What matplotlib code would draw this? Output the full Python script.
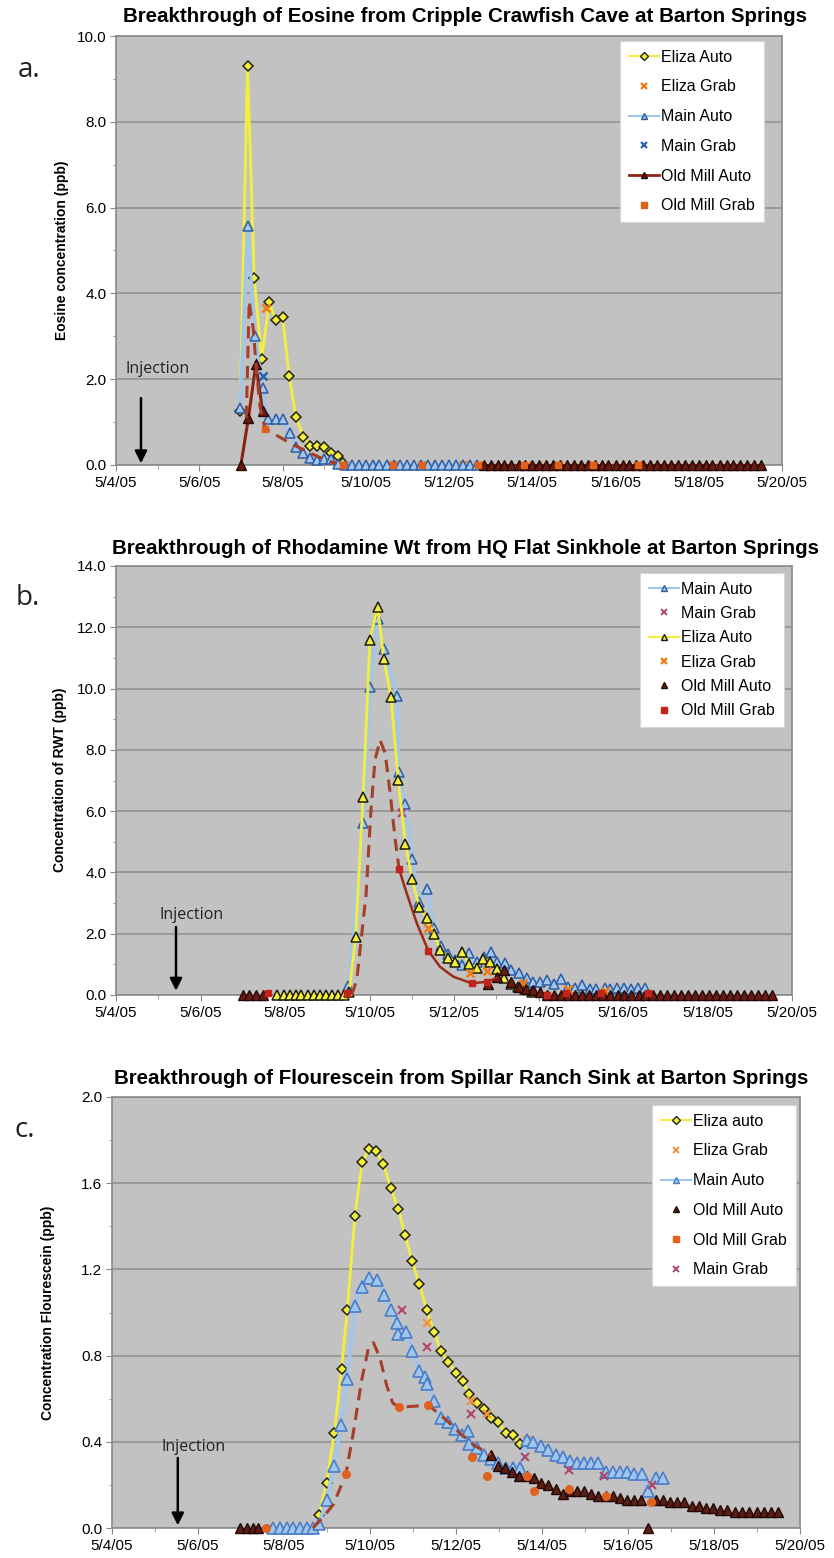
import numpy as np
import pandas as pd
import matplotlib
matplotlib.use("Agg")
import matplotlib.pyplot as plt
import matplotlib.dates as mdates
from matplotlib.lines import Line2D
from matplotlib.ticker import FormatStrFormatter, MultipleLocator

# ---------------------------------------------------------------------------
# Data (time = days after 5/4/05 00:00, values in ppb)
# ---------------------------------------------------------------------------
START = pd.Timestamp("2005-05-04")

# a. Eosine from Cripple Crawfish Cave
EOS_ELIZA_AUTO_T = [2.98, 3.16, 3.32, 3.50, 3.68, 3.84, 4.00, 4.16, 4.32, 4.50, 4.66, 4.84, 5.00, 5.16, 5.33, 5.46]
EOS_ELIZA_AUTO = [1.25, 9.31, 4.35, 2.46, 3.79, 3.38, 3.46, 2.08, 1.13, 0.65, 0.44, 0.44, 0.41, 0.29, 0.21, 0.05]
EOS_ELIZA_GRAB_T = [3.60, 5.46, 6.65, 7.35, 8.34, 8.70, 9.75, 9.87, 10.63, 11.47, 12.55]
EOS_ELIZA_GRAB = [3.65, 0.0, 0.0, 0.0, 0.0, 0.0, 0.0, 0.0, 0.0, 0.0, 0.0]
EOS_MAIN_AUTO_T = [2.98, 3.16, 3.34, 3.52, 3.66, 3.84, 4.00, 4.18, 4.32, 4.50, 4.66, 4.82, 4.99, 5.16, 5.34,
                   5.50, 5.67, 5.83, 6.00, 6.17, 6.33, 6.50, 6.67, 6.83, 7.00, 7.17, 7.33, 7.50, 7.67, 7.83,
                   8.00, 8.17, 8.33, 8.50, 8.67]
EOS_MAIN_AUTO = [1.32, 5.57, 3.00, 1.79, 1.07, 1.07, 1.07, 0.74, 0.43, 0.27, 0.16, 0.12, 0.13, 0.13, 0.02,
                 0.0, 0.0, 0.0, 0.0, 0.0, 0.0, 0.0, 0.0, 0.0, 0.0, 0.0, 0.0, 0.0, 0.0, 0.0,
                 0.0, 0.0, 0.0, 0.0, 0.0]
EOS_MAIN_GRAB_T = [3.54]
EOS_MAIN_GRAB = [2.07]
EOS_OLDMILL_AUTO_T = [3.00, 3.18, 3.36, 3.52]
EOS_OLDMILL_AUTO = [0.0, 1.09, 2.35, 1.27]
EOS_OLDMILL_TAIL_T = [8.83, 9.00, 9.17, 9.33, 9.50, 9.67, 9.83, 10.00, 10.17, 10.33, 10.50, 10.67, 10.83, 11.00,
                      11.17, 11.33, 11.50, 11.67, 11.83, 12.00, 12.17, 12.33, 12.50, 12.67, 12.83, 13.00, 13.17,
                      13.33, 13.50, 13.67, 13.83, 14.00, 14.17, 14.33, 14.50, 14.67, 14.83, 15.00, 15.17, 15.33,
                      15.50]
EOS_OLDMILL_TAIL = [0.0] * 41
EOS_OLDMILL_GRAB_T = [3.58, 5.46, 6.65, 7.35, 8.70, 9.80, 10.63, 11.47, 12.55]
EOS_OLDMILL_GRAB = [0.85, 0.0, 0.0, 0.0, 0.0, 0.0, 0.0, 0.0, 0.0]
EOS_CURVE_T = [3.13, 3.20, 3.30, 3.38, 3.46, 3.58, 4.18, 4.66, 5.00, 5.30]
EOS_CURVE = [1.10, 3.82, 3.15, 2.14, 1.36, 0.85, 0.51, 0.28, 0.13, 0.03]
EOS_INJECTION = 0.60

# b. Rhodamine WT from HQ Flat Sinkhole
RWT_MAIN_AUTO_T = [5.50, 5.85, 6.01, 6.19, 6.34, 6.66, 6.69, 6.85, 7.01, 7.18, 7.37, 7.53, 7.69, 7.86, 8.02,
                   8.18, 8.36, 8.54, 8.70, 8.87, 9.02, 9.20, 9.36, 9.55, 9.72, 9.88, 10.03, 10.21, 10.37, 10.53,
                   10.70, 10.86, 11.04, 11.21, 11.37, 11.57, 11.70, 11.85, 12.03, 12.20, 12.36, 12.52]
RWT_MAIN_AUTO = [0.30, 5.62, 10.06, 12.26, 11.28, 9.76, 7.29, 6.22, 4.44, 3.05, 3.45, 2.20, 1.60, 1.34, 1.15,
                 0.97, 1.36, 1.09, 1.25, 1.39, 1.09, 1.03, 0.82, 0.71, 0.55, 0.43, 0.43, 0.49, 0.35, 0.51,
                 0.25, 0.22, 0.33, 0.20, 0.20, 0.22, 0.20, 0.22, 0.22, 0.20, 0.22, 0.22]
RWT_MAIN_GRAB_T = [6.76]
RWT_MAIN_GRAB = [5.93]
RWT_ELIZA_AUTO_T = [3.82, 3.97, 4.11, 4.25, 4.39, 4.54, 4.68, 4.83, 4.97, 5.11, 5.25, 5.39, 5.52, 5.67, 5.85,
                    6.01, 6.19, 6.34, 6.51, 6.68, 6.85, 7.01, 7.18, 7.35, 7.53, 7.68, 7.86, 8.02, 8.20, 8.36,
                    8.54, 8.69, 8.85, 9.02, 9.18, 9.35, 9.52, 9.68, 9.85]
RWT_ELIZA_AUTO = [0.0, 0.0, 0.0, 0.0, 0.0, 0.0, 0.0, 0.0, 0.0, 0.0, 0.0, 0.0, 0.10, 1.90, 6.47,
                  11.59, 12.67, 10.97, 9.71, 7.02, 4.93, 3.78, 2.88, 2.52, 1.99, 1.47, 1.22, 1.09, 1.41, 1.00,
                  0.87, 1.17, 1.09, 0.84, 0.54, 0.35, 0.25, 0.20, 0.10]
RWT_ELIZA_GRAB_T = [7.39, 8.38, 8.77, 9.64, 10.70, 11.58]
RWT_ELIZA_GRAB = [2.18, 0.73, 0.79, 0.38, 0.19, 0.12]
RWT_OLDMILL_AUTO_T = [3.00, 3.15, 3.31, 3.48, 8.81, 9.02, 9.18, 9.35, 9.53, 9.70, 9.87, 10.04, 10.20,
                      10.37, 10.53, 10.70, 10.87, 11.03, 11.20, 11.37, 11.53, 11.70, 11.87, 12.03, 12.20, 12.37,
                      12.53, 12.70, 12.87, 13.03, 13.20, 13.37, 13.53, 13.70, 13.87, 14.03, 14.20, 14.37, 14.53,
                      14.70, 14.87, 15.03, 15.20, 15.37, 15.53]
RWT_OLDMILL_AUTO = [0.0, 0.0, 0.0, 0.0, 0.36, 0.60, 0.80, 0.44, 0.27, 0.20, 0.17, 0.10, 0.0] + [0.0] * 32
RWT_OLDMILL_GRAB_T = [3.60, 5.46, 6.70, 7.39, 8.42, 8.77, 10.19, 10.64, 11.49, 12.60]
RWT_OLDMILL_GRAB = [0.05, 0.05, 4.11, 1.45, 0.38, 0.43, 0.0, 0.08, 0.05, 0.05]
RWT_DASHED_T = [5.58, 5.70, 5.92, 6.03, 6.13, 6.25, 6.37, 6.49, 6.60, 6.70]
RWT_DASHED = [0.0, 0.5, 3.3, 5.93, 7.67, 8.32, 7.89, 6.58, 5.17, 4.11]
RWT_SOLID_T = [6.70, 6.88, 7.12, 7.39, 7.67, 7.98, 8.42, 8.77, 9.00]
RWT_SOLID = [4.11, 3.32, 2.34, 1.45, 0.92, 0.60, 0.38, 0.43, 0.55]
RWT_INJECTION = 1.42

# c. Flourescein from Spillar Ranch Sink
FL_ELIZA_AUTO_T = [4.81, 4.99, 5.17, 5.34, 5.47, 5.65, 5.82, 5.98, 6.14, 6.31, 6.48, 6.66, 6.81, 6.98, 7.15,
                   7.32, 7.49, 7.65, 7.82, 7.99, 8.16, 8.31, 8.48, 8.65, 8.81, 8.98, 9.16, 9.32, 9.49]
FL_ELIZA_AUTO = [0.06, 0.21, 0.44, 0.74, 1.01, 1.45, 1.70, 1.76, 1.75, 1.69, 1.58, 1.48, 1.36, 1.24, 1.13,
                 1.01, 0.91, 0.82, 0.77, 0.72, 0.68, 0.62, 0.58, 0.55, 0.51, 0.49, 0.44, 0.43, 0.39]
FL_ELIZA_GRAB_T = [7.33, 8.34, 8.73, 9.64]
FL_ELIZA_GRAB = [0.95, 0.59, 0.53, 0.41]
FL_MAIN_AUTO_T = [3.75, 3.91, 4.06, 4.22, 4.37, 4.53, 4.68, 4.82, 4.99, 5.17, 5.32, 5.47, 5.65, 5.82, 5.98,
                  6.16, 6.33, 6.49, 6.62, 6.66, 6.83, 6.98, 7.15, 7.28, 7.32, 7.49, 7.65, 7.82, 7.98, 8.15,
                  8.28, 8.31, 8.48, 8.65, 8.81, 8.98, 9.16, 9.32, 9.49, 9.64, 9.80, 9.98, 10.15, 10.32, 10.48,
                  10.65, 10.81, 10.98, 11.15, 11.31, 11.48, 11.65, 11.81, 11.98, 12.14, 12.32, 12.47, 12.65, 12.82]
FL_MAIN_AUTO = [0.0, 0.0, 0.0, 0.0, 0.0, 0.0, 0.0, 0.02, 0.13, 0.29, 0.48, 0.69, 1.03, 1.12, 1.16,
                1.15, 1.08, 1.01, 0.95, 0.90, 0.91, 0.82, 0.73, 0.70, 0.67, 0.59, 0.51, 0.49, 0.46, 0.43,
                0.45, 0.39, 0.37, 0.34, 0.32, 0.30, 0.28, 0.28, 0.28, 0.41, 0.40, 0.38, 0.36, 0.34, 0.33,
                0.31, 0.30, 0.30, 0.30, 0.30, 0.26, 0.26, 0.26, 0.26, 0.25, 0.25, 0.17, 0.23, 0.23]
FL_OLDMILL_AUTO_T = [2.98, 3.13, 3.27, 3.40, 8.81, 8.97, 9.14, 9.31, 9.47, 9.64, 9.81, 9.98, 10.15, 10.32,
                     10.48, 10.65, 10.81, 10.98, 11.14, 11.31, 11.48, 11.65, 11.81, 11.98, 12.14, 12.31, 12.47,
                     12.64, 12.81, 12.97, 13.14, 13.31, 13.48, 13.64, 13.81, 13.98, 14.15, 14.31, 14.49, 14.65,
                     14.82, 14.99, 15.16, 15.32, 15.48]
FL_OLDMILL_AUTO = [0.0, 0.0, 0.0, 0.0, 0.34, 0.29, 0.28, 0.26, 0.24, 0.24, 0.23, 0.21, 0.20, 0.18,
                   0.16, 0.17, 0.17, 0.17, 0.16, 0.15, 0.15, 0.15, 0.14, 0.13, 0.13, 0.13, 0.0,
                   0.13, 0.13, 0.12, 0.12, 0.12, 0.10, 0.10, 0.095, 0.095, 0.084, 0.084, 0.076, 0.076,
                   0.076, 0.076, 0.076, 0.076, 0.076]
FL_OLDMILL_GRAB_T = [3.57, 5.44, 6.68, 7.36, 8.37, 8.71, 9.64, 9.82, 10.63, 11.48, 12.53]
FL_OLDMILL_GRAB = [0.0, 0.25, 0.56, 0.57, 0.33, 0.24, 0.24, 0.17, 0.18, 0.15, 0.12]
FL_MAIN_GRAB_T = [6.74, 7.33, 8.36, 9.60, 10.63, 11.44, 12.55]
FL_MAIN_GRAB = [1.01, 0.84, 0.53, 0.33, 0.27, 0.24, 0.20]
FL_DASHED_T = [4.67, 4.91, 5.15, 5.44, 5.61, 5.81, 5.96, 6.08, 6.23, 6.39, 6.53, 6.68, 7.36, 7.78, 8.09,
               8.45, 8.81]
FL_DASHED = [0.0, 0.05, 0.11, 0.25, 0.44, 0.69, 0.83, 0.86, 0.79, 0.66, 0.58, 0.56, 0.57, 0.50, 0.44,
             0.38, 0.34]
FL_INJECTION = 1.53

# ---------------------------------------------------------------------------
# Styles
# ---------------------------------------------------------------------------
FONT = "Liberation Sans"
BG = "#C3C2C3"
GRID = "#8E8E8E"
YELLOW = "#F3EF3C"
LBLUE = "#A0C6EC"
BLUE_EDGE = "#2E5CA2"
DARK_TRI = "#6A1C12"
OM_LINE = "#8C2414"
OM_DASH = "#A4402A"
ORANGE = "#F07C10"
MAUVE = "#B04868"

plt.rcParams["font.family"] = [FONT, "DejaVu Sans"]


def to_dates(days):
    return START + pd.to_timedelta(np.asarray(days, dtype=float), unit="D")


def px_axes(fig, left, top, right, bottom, W=834, H=1558):
    return fig.add_axes([left / W, 1 - bottom / H, (right - left) / W, (bottom - top) / H])


def style_axes(ax, ymax, ystep, fmt):
    ax.set_facecolor(BG)
    ax.set_xlim(to_dates([0, 16]))
    ax.set_ylim(0, ymax)
    ax.yaxis.set_major_locator(MultipleLocator(ystep))
    ax.yaxis.set_minor_locator(MultipleLocator(ystep / 2))
    ax.yaxis.set_major_formatter(FormatStrFormatter(fmt))
    ax.xaxis.set_major_locator(mdates.DayLocator(bymonthday=range(4, 21, 2)))
    ax.xaxis.set_minor_locator(mdates.DayLocator())
    ax.xaxis.set_major_formatter(mdates.DateFormatter("%-m/%-d/%y"))
    ax.grid(True, axis="y", which="major", color=GRID, lw=1.1)
    ax.set_axisbelow(True)
    for s in ax.spines.values():
        s.set_color("#8A8A8A")
        s.set_linewidth(1.2)
    ax.tick_params(axis="both", which="both", colors="#8A8A8A", labelcolor="black", labelsize=11)
    ax.tick_params(axis="y", which="major", length=4, pad=3)
    ax.tick_params(axis="y", which="minor", length=2)
    ax.tick_params(axis="x", which="major", length=4, pad=4)
    ax.tick_params(axis="x", which="minor", length=3)


def injection(ax, day, ytext, ytop, ybot):
    ax.annotate("", xy=(to_dates([day])[0], ybot), xytext=(to_dates([day])[0], ytop),
                arrowprops=dict(arrowstyle="-|>", color="black", lw=1.8, mutation_scale=18,
                                shrinkA=0, shrinkB=0))
    ax.text(to_dates([day - 0.38])[0], ytext, "Injection", fontsize=11.5, family="Open Sans",
            color="#222222", va="center", ha="left")


def series(ax, t, v, **kw):
    ax.plot(to_dates(t), v, clip_on=False, **kw)


def legend(ax, fig, handles, labels, anchor, spacing):
    leg = ax.legend(handles, labels, loc="upper right", bbox_to_anchor=anchor,
                    bbox_transform=fig.transFigure, fontsize=11.5, frameon=True, fancybox=False,
                    edgecolor="#D6D6D6", facecolor="white", framealpha=1, borderpad=0.55,
                    labelspacing=spacing, handlelength=1.9, handletextpad=0.15, borderaxespad=0)
    leg.get_frame().set_linewidth(0.8)


def h(color=None, lw=0, marker=None, ms=5, mfc=None, mec=None, mew=1.0):
    return Line2D([], [], color=color or "none", lw=lw, marker=marker, ms=ms,
                  mfc=mfc, mec=mec, mew=mew)


fig = plt.figure(figsize=(8.34, 15.58), dpi=100)
fig.patch.set_facecolor("white")

tri_main = dict(marker="^", ms=7.5, mfc=LBLUE, mec=BLUE_EDGE, mew=1.1)
tri_eliza = dict(marker="^", ms=7.5, mfc=YELLOW, mec="#1C1C0A", mew=1.1)
tri_om = dict(marker="^", ms=7.5, mfc=DARK_TRI, mec="#240805", mew=1.0)
dia_eliza = dict(marker="D", ms=5.4, mfc=YELLOW, mec="#242410", mew=1.1)

# ---------------------------------------------------------------------------
# a. Eosine
# ---------------------------------------------------------------------------
ax = px_axes(fig, 116, 36, 782, 465)
style_axes(ax, 10.0, 2.0, "%.1f")
series(ax, EOS_ELIZA_AUTO_T, EOS_ELIZA_AUTO, color=YELLOW, lw=2.0, zorder=3, **dia_eliza)
series(ax, EOS_ELIZA_GRAB_T, EOS_ELIZA_GRAB, ls="none", marker="x", ms=6, mew=1.8, color=ORANGE, zorder=4)
series(ax, EOS_MAIN_AUTO_T, EOS_MAIN_AUTO, color=LBLUE, lw=2.4, zorder=5, **tri_main)
series(ax, EOS_MAIN_GRAB_T, EOS_MAIN_GRAB, ls="none", marker="x", ms=6, mew=1.8, color="#2464B0", zorder=6)
series(ax, EOS_OLDMILL_AUTO_T, EOS_OLDMILL_AUTO, color=OM_LINE, lw=2.2, zorder=7, **tri_om)
series(ax, EOS_OLDMILL_TAIL_T, EOS_OLDMILL_TAIL, color=OM_LINE, lw=1.5, zorder=7, **tri_om)
series(ax, EOS_CURVE_T, EOS_CURVE, color=OM_DASH, lw=2.2, ls=(0, (4, 2.5)), zorder=8)
series(ax, EOS_OLDMILL_GRAB_T, EOS_OLDMILL_GRAB, ls="none", marker="s", ms=5, mfc="#E0601C",
       mec="#E0601C", zorder=9)
injection(ax, EOS_INJECTION, 2.24, 1.56, 0.04)
legend(ax, fig,
       [h(YELLOW, 1.5, "D", 4, YELLOW, "#242410"), h(None, 0, "x", 5, None, ORANGE, 1.6),
        h(LBLUE, 1.5, "^", 5, LBLUE, BLUE_EDGE), h(None, 0, "x", 5, None, "#2464B0", 1.6),
        h(OM_LINE, 2.0, "^", 5, DARK_TRI, "#240805"), h(None, 0, "s", 4.5, "#E0601C", "#E0601C")],
       ["Eliza Auto", "Eliza Grab", "Main Auto", "Main Grab", "Old Mill Auto", "Old Mill Grab"],
       (764 / 834, 1 - 41 / 1558), 0.92)

# ---------------------------------------------------------------------------
# b. Rhodamine WT
# ---------------------------------------------------------------------------
ax = px_axes(fig, 116, 566, 792, 995)
style_axes(ax, 14.0, 2.0, "%.1f")
series(ax, RWT_MAIN_AUTO_T, RWT_MAIN_AUTO, color=LBLUE, lw=2.4, zorder=3, **tri_main)
series(ax, RWT_MAIN_GRAB_T, RWT_MAIN_GRAB, ls="none", marker="x", ms=6, mew=1.6, color=MAUVE, zorder=4)
series(ax, RWT_ELIZA_AUTO_T, RWT_ELIZA_AUTO, color=YELLOW, lw=2.0, zorder=5, **tri_eliza)
series(ax, RWT_ELIZA_GRAB_T, RWT_ELIZA_GRAB, ls="none", marker="x", ms=6, mew=1.8, color=ORANGE, zorder=6)
series(ax, RWT_OLDMILL_AUTO_T, RWT_OLDMILL_AUTO, ls="none", zorder=7, **tri_om)
series(ax, RWT_DASHED_T, RWT_DASHED, color=OM_DASH, lw=2.2, ls=(0, (4, 2.5)), zorder=8)
series(ax, RWT_SOLID_T, RWT_SOLID, color="#9A2C18", lw=1.8, zorder=8)
series(ax, RWT_OLDMILL_GRAB_T, RWT_OLDMILL_GRAB, ls="none", marker="s", ms=5, mfc="#C4221A",
       mec="#C4221A", zorder=9)
injection(ax, RWT_INJECTION, 2.61, 2.22, 0.14)
legend(ax, fig,
       [h(LBLUE, 1.5, "^", 5, LBLUE, BLUE_EDGE), h(None, 0, "x", 5, None, MAUVE, 1.4),
        h(YELLOW, 1.5, "^", 5, YELLOW, "#1C1C0A"), h(None, 0, "x", 5, None, ORANGE, 1.6),
        h(None, 0, "^", 5, DARK_TRI, "#240805"), h(None, 0, "s", 4.5, "#C4221A", "#C4221A")],
       ["Main Auto", "Main Grab", "Eliza Auto", "Eliza Grab", "Old Mill Auto", "Old Mill Grab"],
       (784 / 834, 1 - 573 / 1558), 0.58)

# ---------------------------------------------------------------------------
# c. Flourescein
# ---------------------------------------------------------------------------
ax = px_axes(fig, 112, 1097, 800, 1528)
style_axes(ax, 2.0, 0.4, "%.1f")
series(ax, FL_ELIZA_AUTO_T, FL_ELIZA_AUTO, color=YELLOW, lw=2.0, zorder=3, **dia_eliza)
series(ax, FL_ELIZA_GRAB_T, FL_ELIZA_GRAB, ls="none", marker="x", ms=6, mew=1.5, color="#F09040", zorder=4)
series(ax, FL_MAIN_AUTO_T, FL_MAIN_AUTO, color=LBLUE, lw=2.6, zorder=5,
       marker="^", ms=8, mfc=LBLUE, mec="#4A7CC8", mew=1.2)
series(ax, FL_OLDMILL_AUTO_T, FL_OLDMILL_AUTO, ls="none", zorder=6,
       marker="^", ms=7.5, mfc="#5C1E14", mec="#200805", mew=1.0)
series(ax, FL_DASHED_T, FL_DASHED, color=OM_DASH, lw=2.2, ls=(0, (4, 2.5)), zorder=7)
series(ax, FL_OLDMILL_GRAB_T, FL_OLDMILL_GRAB, ls="none", marker="o", ms=5.5, mfc="#E0621E",
       mec="#E0621E", zorder=8)
series(ax, FL_MAIN_GRAB_T, FL_MAIN_GRAB, ls="none", marker="x", ms=6, mew=1.5, color=MAUVE, zorder=9)
injection(ax, FL_INJECTION, 0.376, 0.325, 0.012)
legend(ax, fig,
       [h(YELLOW, 1.5, "D", 4, YELLOW, "#242410"), h(None, 0, "x", 5, None, "#F09040", 1.4),
        h(LBLUE, 1.5, "^", 5, LBLUE, "#4A7CC8"), h(None, 0, "^", 5, "#5C1E14", "#200805"),
        h(None, 0, "s", 4.5, "#E0621E", "#E0621E"), h(None, 0, "x", 5, None, MAUVE, 1.4)],
       ["Eliza auto", "Eliza Grab", "Main Auto", "Old Mill Auto", "Old Mill Grab", "Main Grab"],
       (796 / 834, 1 - 1105 / 1558), 0.92)

# ---------------------------------------------------------------------------
# Titles, axis labels, panel letters
# ---------------------------------------------------------------------------
W, H = 834, 1558
titles = [("Breakthrough of Eosine from Cripple Crawfish Cave at Barton Springs", 465, 16),
          ("Breakthrough of Rhodamine Wt from HQ Flat Sinkhole at Barton Springs", 465, 548),
          ("Breakthrough of Flourescein from Spillar Ranch Sink at Barton Springs", 461, 1079)]
for txt, x, y in titles:
    fig.text(x / W, 1 - y / H, txt, ha="center", va="center", fontsize=14.8, fontweight="bold")

ylabels = [("Eosine concentration (ppb)", 62, 250),
           ("Concentration of RWT (ppb)", 60, 780),
           ("Concentration Flourescein (ppb)", 48, 1313)]
for txt, x, y in ylabels:
    fig.text(x / W, 1 - y / H, txt, ha="center", va="center", rotation=90, fontsize=10, fontweight="bold")

for txt, x, y in [("a.", 18, 70), ("b.", 16, 598), ("c.", 15, 1130)]:
    fig.text(x / W, 1 - y / H, txt, ha="left", va="center", fontsize=20, family="Open Sans",
             color="#222222")

fig.savefig("out.png", dpi=100, facecolor="white")
